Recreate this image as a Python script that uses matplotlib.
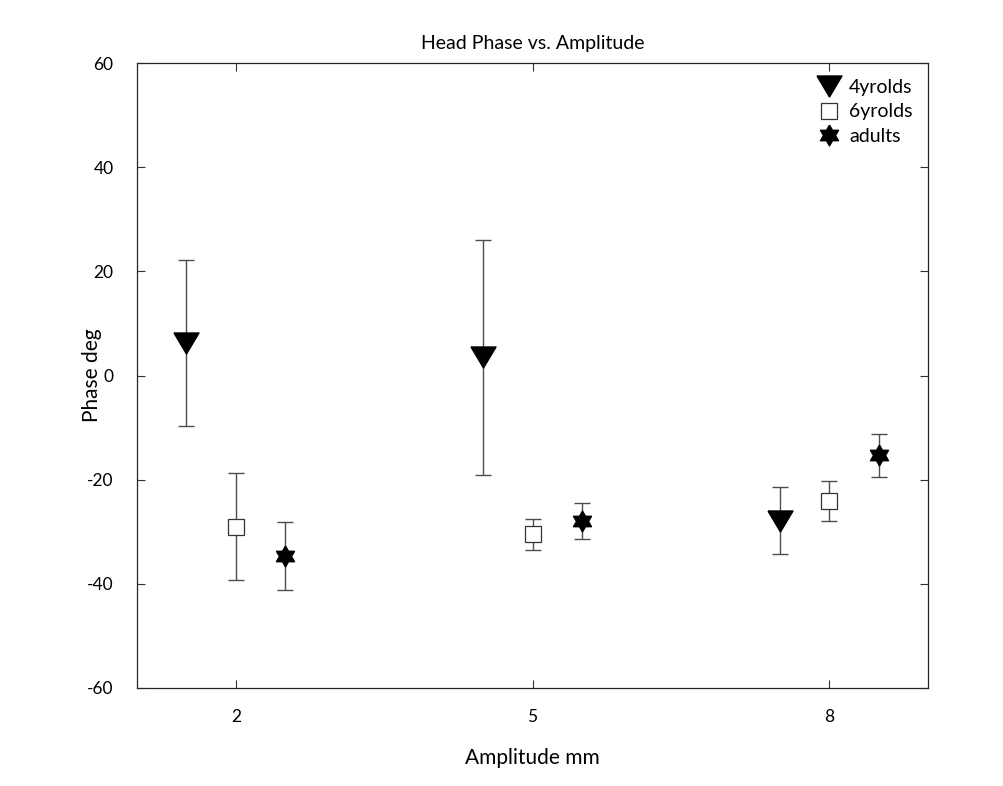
import numpy as np
import matplotlib
matplotlib.use('Agg')
import matplotlib.pyplot as plt

# amplitude groups (mm) and per-group means / std of head phase (deg)
amplitudes = [2, 5, 8]
groups = ['4yrolds', '6yrolds', 'adults']
offsets = [-0.5, 0.0, 0.5]

phase_4yr = [6.3, 3.5, -27.9]
err_4yr = [15.9, 22.6, 6.4]
phase_6yr = [-29.0, -30.5, -24.15]
err_6yr = [10.25, 2.95, 3.85]
phase_adult = [-34.6, -27.9, -15.3]
err_adult = [6.55, 3.5, 4.1]

yticks = [-60, -40, -20, 0, 20, 40, 60]

plt.rcParams['font.family'] = ['Lato', 'DejaVu Sans']
plt.rcParams['axes.unicode_minus'] = False

# marker shapes: flat downward triangle and a six-point star
tri = [(-1, 0.84), (1, 0.84), (0, -0.84), (-1, 0.84)]
ang = np.deg2rad(np.arange(12) * 30 + 90)
rad = np.where(np.arange(12) % 2 == 0, 1.0, 0.577)
hexagram = list(zip(rad * np.cos(ang), rad * np.sin(ang)))
hexagram.append(hexagram[0])

styles = [
    dict(marker=tri, ms=18, mfc='black', mec='black'),
    dict(marker='s', ms=12, mfc='white', mec='0.2', mew=0.9),
    dict(marker=hexagram, ms=15, mfc='black', mec='black'),
]

fig = plt.figure(figsize=(10.04, 7.86), dpi=100)
ax = fig.add_axes([0.1365, 0.1247, 0.7878, 0.7951])

series = [(phase_4yr, err_4yr), (phase_6yr, err_6yr), (phase_adult, err_adult)]
for (vals, errs), off, name, st in zip(series, offsets, groups, styles):
    x = np.array(amplitudes) + off
    ax.errorbar(x, vals, yerr=errs, fmt='none', ecolor='0.3', elinewidth=1,
                capsize=6, capthick=1)
    ax.plot(x, vals, linestyle='none', label=name, **st)

ax.set_xlim(1, 9)
ax.set_ylim(-60, 60)
ax.set_xticks(amplitudes)
ax.set_yticks(yticks)
ax.tick_params(direction='in', top=True, right=True, length=6, width=0.8,
               labelsize=12.5, color='0.2')
ax.tick_params(axis='x', pad=15)
ax.tick_params(axis='y', pad=17)
for sp in ax.spines.values():
    sp.set_linewidth(0.9)
    sp.set_color('0.15')

ax.set_title('Head Phase vs. Amplitude', fontsize=14, pad=10)
ax.set_xlabel('Amplitude mm', fontsize=15)
ax.set_ylabel('Phase deg', fontsize=15)
ax.xaxis.set_label_coords(0.5, -0.112)
ax.yaxis.set_label_coords(-0.057, 0.5)
ax.xaxis.label.set_va('center')
ax.yaxis.label.set_va('center')

ax.legend(loc='upper right', frameon=False, fontsize=14, handletextpad=0.3,
          handlelength=1.4, labelspacing=0.4, borderaxespad=0.4)

fig.savefig('out.png', dpi=100)
